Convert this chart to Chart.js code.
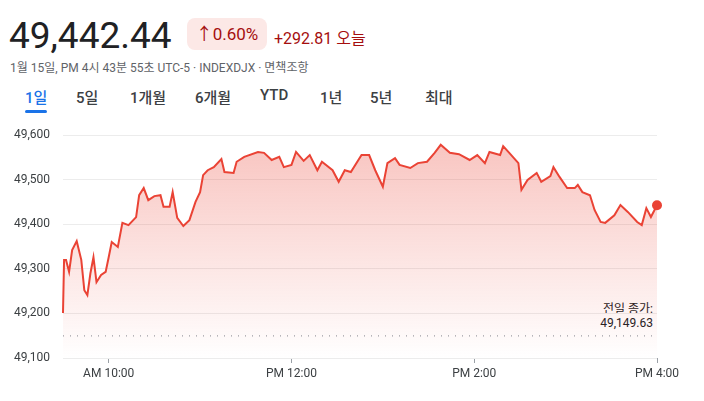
<!DOCTYPE html><html><head><meta charset="utf-8">
<script src="https://cdn.jsdelivr.net/npm/chart.js@4"></script>
<style>
body{margin:0;width:704px;height:401px;background:#fff;font-family:Roboto,"Noto Sans CJK KR",sans-serif;position:relative;overflow:hidden}
.a{position:absolute;white-space:nowrap}
#price{left:9px;top:14px;font-size:37px;color:#202124}
#badge{left:187px;top:18px;height:32px;width:80px;background:#fce8e6;border-radius:8px;color:#a50e0e;font-size:17px;line-height:32px;text-align:center}
#chg{left:274px;top:25px;font-size:16px;color:#a50e0e}
#sub{left:10px;top:58px;font-size:12px;color:#5f6368}
.tab{top:86px;font-size:15px;color:#3c4043;font-weight:500}
#cw{position:absolute;left:0;top:120px;width:704px;height:281px}
</style></head><body>
<div class="a" id="price">49,442.44</div>
<div class="a" id="badge">↑0.60%</div>
<div class="a" id="chg">+292.81 오늘</div>
<div class="a" id="sub">1월 15일, PM 4시 43분 55초 UTC-5 · INDEXDJX · 면책조항</div>
<div class="a tab" style="left:25px;color:#1a73e8">1일<div style="height:3px;background:#1a73e8;margin-top:3px;border-radius:2px"></div></div>
<div class="a tab" style="left:76px">5일</div>
<div class="a tab" style="left:130px">1개월</div>
<div class="a tab" style="left:195px">6개월</div>
<div class="a tab" style="left:260px">YTD</div>
<div class="a tab" style="left:320px">1년</div>
<div class="a tab" style="left:370px">5년</div>
<div class="a tab" style="left:425px">최대</div>
<div class="a" style="right:51px;top:299px;font-size:12px;color:#202124;text-align:right;background:rgba(255,255,255,0.6)">전일 종가:<br>49,149.63</div>
<div id="cw"><canvas id="c"></canvas></div>
<script>
const minutes=[0,0.7,2,4,6,9,12,14,16,18,20,22,25,28,30,32,36,39,43,48,50,53,56,60,64,66,70,72,75,79,83,87,90,92,95,99,104,106,112,114,119,128,132,137,142,145,150,153,158,162,167,170,177,181,185,189,196,201,205,210,213,218,221,228,233,239,244,248,254,260,267,272,277,280,287,289,293,299,301,305,311,314,320,322,326,331,336,338,341,346,349,353,356,362,366,371,377,380,383,386,390];
const prices=[49201,49320,49320,49293,49342,49362,49320,49252,49241,49290,49326,49270,49286,49293,49326,49360,49349,49403,49398,49416,49465,49481,49454,49463,49465,49439,49439,49472,49414,49396,49409,49450,49472,49510,49521,49528,49546,49517,49515,49540,49551,49562,49560,49544,49551,49528,49533,49562,49542,49555,49521,49540,49521,49495,49521,49517,49555,49555,49521,49484,49537,49548,49533,49526,49537,49540,49560,49578,49560,49557,49544,49555,49537,49562,49555,49575,49560,49537,49477,49499,49515,49495,49508,49528,49506,49481,49481,49488,49472,49465,49432,49405,49403,49420,49443,49427,49405,49398,49436,49416,49442.44];
const prevClose=49149.63;
const yTicks=[49100,49200,49300,49400,49500,49600];
const xTickMin=[30,150,270,390];
const xTickLabels=["AM 10:00","PM 12:00","PM 2:00","PM 4:00"];
const pts=minutes.map((m,i)=>({x:m,y:prices[i]}));
const ctx=document.getElementById('c');
new Chart(ctx,{type:'line',data:{datasets:[
{data:pts,borderColor:'#ea4335',borderWidth:2,tension:0,clip:false,
 pointRadius:pts.map((p,i)=>i===pts.length-1?5:0),pointBackgroundColor:'#ea4335',pointBorderWidth:0,
 fill:'start',backgroundColor:(c)=>{const a=c.chart.chartArea;if(!a)return 'rgba(234,67,53,0.2)';const g=c.chart.ctx.createLinearGradient(0,a.top,0,a.bottom);g.addColorStop(0,'rgba(234,67,53,0.32)');g.addColorStop(1,'rgba(234,67,53,0.0)');return g;}},
{data:[{x:0,y:prevClose},{x:390,y:prevClose}],borderColor:'#9aa0a6',borderWidth:1.3,borderDash:[1,6],pointRadius:0,fill:false}
]},options:{responsive:true,maintainAspectRatio:false,animation:false,
layout:{padding:{top:15,right:47,bottom:0,left:14}},
plugins:{legend:{display:false},tooltip:{enabled:false}},
scales:{
x:{type:'linear',min:0,max:390,afterBuildTicks:s=>{s.ticks=xTickMin.map(v=>({value:v}));},
 ticks:{callback:(v)=>xTickLabels[xTickMin.indexOf(v)],color:'#3c4043',font:{size:12,family:'Roboto'},maxRotation:0,padding:4,autoSkip:false},
 grid:{drawOnChartArea:false,tickLength:5,color:'#9aa0a6'},border:{display:false},
 afterFit:s=>{s.height=43;}},
y:{min:49100,max:49600,afterBuildTicks:s=>{s.ticks=yTicks.map(v=>({value:v}));},
 ticks:{callback:v=>v.toLocaleString('en-US'),color:'#3c4043',font:{size:12,family:'Roboto'},crossAlign:'far',padding:6},
 grid:{color:'#ececec',drawTicks:false},border:{display:false},
 afterFit:s=>{s.width=49;}}
}}});
</script></body></html>
